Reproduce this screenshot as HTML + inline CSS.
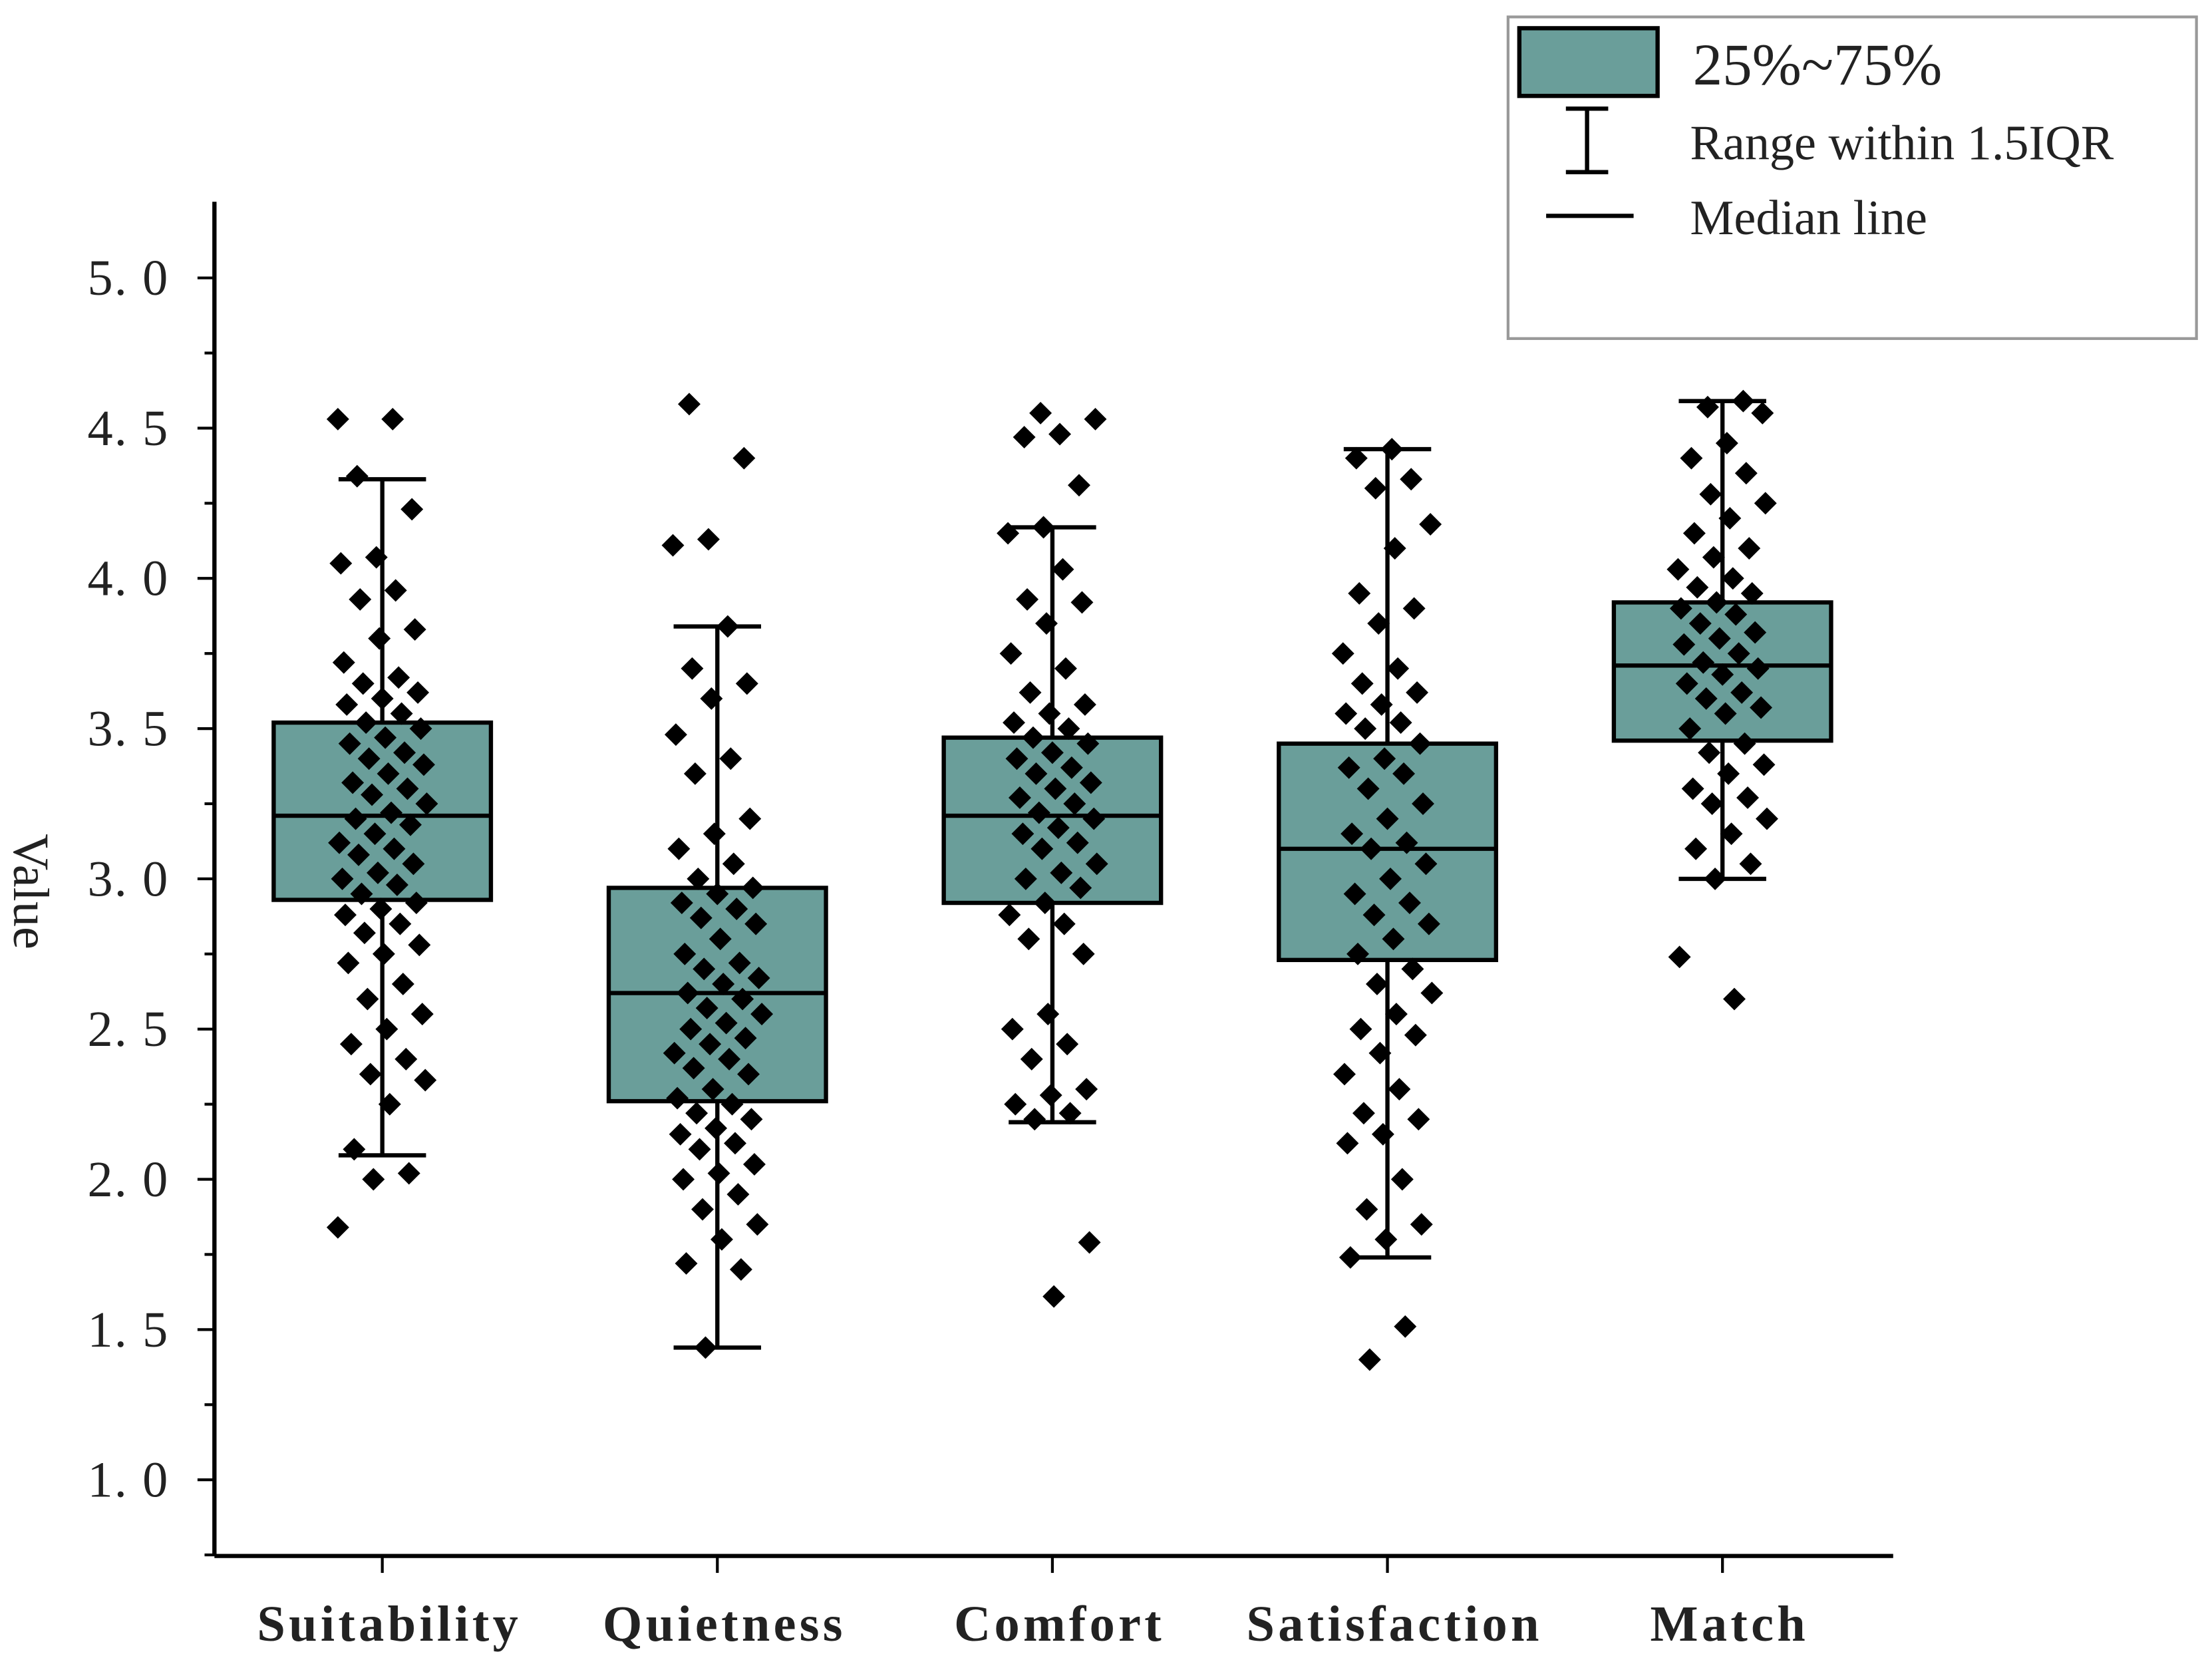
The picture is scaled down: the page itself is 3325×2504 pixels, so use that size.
<!DOCTYPE html>
<html><head><meta charset="utf-8"><style>
html,body{margin:0;padding:0;background:#fff;}
svg{display:block;}
text{font-family:"Liberation Serif","Noto Serif CJK SC",serif;fill:#222;}
</style></head><body>
<svg id="chart" width="3325" height="2504" viewBox="0 0 1568 1181" preserveAspectRatio="none" xmlns="http://www.w3.org/2000/svg">
<g id="axes"></g>
<g id="boxes"></g>
<g id="points"></g>
<g>
  <rect x="1069" y="12" width="488" height="228" fill="#fff" stroke="#999" stroke-width="2"/>
  <rect x="1077" y="20" width="98" height="48" fill="#6a9e9a" stroke="#000" stroke-width="3"/>
  <text x="1200" y="60" font-size="42" fill="#333">25%~75%</text>
  <line x1="1125" y1="77" x2="1125" y2="122" stroke="#000" stroke-width="3"/>
  <line x1="1110" y1="77" x2="1140" y2="77" stroke="#000" stroke-width="3"/>
  <line x1="1110" y1="122" x2="1140" y2="122" stroke="#000" stroke-width="3"/>
  <text x="1198" y="113" font-size="35" fill="#333">Range within 1.5IQR</text>
  <line x1="1096" y1="153" x2="1158" y2="153" stroke="#000" stroke-width="3"/>
  <text x="1198" y="166" font-size="35" fill="#333">Median line</text>
</g>
</svg>
<script>
const categories=["Suitability","Quietness","Comfort","Satisfaction","Match"];
const q1=[2.93,2.26,2.92,2.73,3.46];
const q3=[3.52,2.97,3.47,3.45,3.92];
const medians=[3.21,2.62,3.21,3.10,3.71];
const whiskerLow=[2.08,1.44,2.19,1.74,3.00];
const whiskerHigh=[4.33,3.84,4.17,4.43,4.59];
const yTicks=[1.0,1.5,2.0,2.5,3.0,3.5,4.0,4.5,5.0];
const yTickLabels=["1. 0","1. 5","2. 0","2. 5","3. 0","3. 5","4. 0","4. 5","5. 0"];
const ptsSuitability=[4.53,4.53,4.34,4.23,4.07,4.05,3.96,3.93,3.83,3.80,3.72,3.67,3.65,3.62,3.60,3.58,3.55,3.52,3.50,3.47,3.45,3.42,3.40,3.38,3.35,3.32,3.30,3.28,3.25,3.22,3.20,3.18,3.15,3.12,3.10,3.08,3.05,3.02,3.00,2.98,2.95,2.92,2.90,2.88,2.85,2.82,2.78,2.75,2.72,2.65,2.60,2.55,2.50,2.45,2.40,2.35,2.33,2.25,2.10,2.02,2.00,1.84];
const ptsQuietness=[4.58,4.40,4.13,4.11,3.84,3.70,3.65,3.60,3.48,3.40,3.35,3.20,3.15,3.10,3.05,3.00,2.97,2.95,2.92,2.90,2.87,2.85,2.80,2.75,2.72,2.70,2.67,2.65,2.62,2.60,2.57,2.55,2.52,2.50,2.47,2.45,2.42,2.40,2.37,2.35,2.30,2.27,2.25,2.22,2.20,2.17,2.15,2.12,2.10,2.05,2.02,2.00,1.95,1.90,1.85,1.80,1.72,1.70,1.44];
const ptsComfort=[4.55,4.53,4.48,4.47,4.31,4.17,4.15,4.03,3.93,3.92,3.85,3.75,3.70,3.62,3.58,3.55,3.52,3.50,3.47,3.45,3.42,3.40,3.37,3.35,3.32,3.30,3.27,3.25,3.22,3.20,3.17,3.15,3.12,3.10,3.05,3.02,3.00,2.97,2.92,2.88,2.85,2.80,2.75,2.55,2.50,2.45,2.40,2.30,2.28,2.25,2.22,2.20,1.79,1.61];
const ptsSatisfaction=[4.43,4.40,4.33,4.30,4.18,4.10,3.95,3.90,3.85,3.75,3.70,3.65,3.62,3.58,3.55,3.52,3.50,3.45,3.40,3.37,3.35,3.30,3.25,3.20,3.15,3.12,3.10,3.05,3.00,2.95,2.92,2.88,2.85,2.80,2.75,2.70,2.65,2.62,2.55,2.50,2.48,2.42,2.35,2.30,2.22,2.20,2.15,2.12,2.00,1.90,1.85,1.80,1.74,1.51,1.40];
const ptsMatch=[4.59,4.57,4.55,4.45,4.40,4.35,4.28,4.25,4.20,4.15,4.10,4.07,4.03,4.00,3.97,3.95,3.92,3.90,3.88,3.85,3.82,3.80,3.78,3.75,3.72,3.70,3.68,3.65,3.62,3.60,3.57,3.55,3.50,3.45,3.42,3.38,3.35,3.30,3.27,3.25,3.20,3.15,3.10,3.05,3.00,2.74,2.60];
const points=[ptsSuitability,ptsQuietness,ptsComfort,ptsSatisfaction,ptsMatch];

const NS="http://www.w3.org/2000/svg";
const X0=152,X1=1342,YB=1103,YT=143;
function yScale(v){return 1049-(v-1.0)*213;}
function xScale(i){return 271+i*237.5;}
function mk(tag,attrs,parent){const e=document.createElementNS(NS,tag);for(const k in attrs)e.setAttribute(k,attrs[k]);parent.appendChild(e);return e;}
const axes=document.getElementById('axes'),boxes=document.getElementById('boxes'),pts=document.getElementById('points');
let e;
e=mk('line',{x1:X0,y1:YT,x2:X0,y2:YB,stroke:'#000','stroke-width':3},axes);


e=mk('line',{x1:X0,y1:YB,x2:X1,y2:YB,stroke:'#000','stroke-width':3},axes);


for(let v=0.75;v<=5.2;v+=0.25){
  const y=yScale(v);if(y<YT||y>YB)continue;
  const major=Math.abs(v*2-Math.round(v*2))<1e-6;
  mk('line',{x1:X0-(major?12:7),y1:y,x2:X0,y2:y,stroke:'#000','stroke-width':2},axes);
}
yTicks.forEach((v,i)=>{
  const t=mk('text',{x:120,y:yScale(v)+12,'font-size':36,'text-anchor':'end',fill:'#555','letter-spacing':'1'},axes);
  t.textContent=yTickLabels[i];
  
  
});
e=mk('text',{x:0,y:0,'font-size':36,'text-anchor':'middle',fill:'#333',transform:'translate(10,632) rotate(90)'},axes);
e.textContent='Value';


categories.forEach((c,i)=>{
  const x=xScale(i);
  mk('line',{x1:x,y1:YB,x2:x,y2:YB+12,stroke:'#000','stroke-width':2},axes);
  const t=mk('text',{x:x+5,y:1163,'font-size':36,'font-weight':'bold','text-anchor':'middle','letter-spacing':'2.5',fill:'#000'},axes);
  t.textContent=c;
  
  
  const g=mk('g',{},boxes);
  
  
  mk('line',{x1:x,y1:yScale(whiskerHigh[i]),x2:x,y2:yScale(whiskerLow[i]),stroke:'#000','stroke-width':3},g);
  mk('line',{x1:x-31,y1:yScale(whiskerHigh[i]),x2:x+31,y2:yScale(whiskerHigh[i]),stroke:'#000','stroke-width':3},g);
  mk('line',{x1:x-31,y1:yScale(whiskerLow[i]),x2:x+31,y2:yScale(whiskerLow[i]),stroke:'#000','stroke-width':3},g);
  mk('rect',{x:x-77,y:yScale(q3[i]),width:154,height:yScale(q1[i])-yScale(q3[i]),fill:'#6a9e9a',stroke:'#000','stroke-width':3},g);
  mk('line',{x1:x-77,y1:yScale(medians[i]),x2:x+77,y2:yScale(medians[i]),stroke:'#000','stroke-width':3},g);
  points[i].forEach((v,j)=>{
    const off=(((j*37+i*11)%61)-30)*1.05;
    const px=x+off,py=yScale(v);
    const p=mk('path',{d:`M${px} ${py-8}L${px+8} ${py}L${px} ${py+8}L${px-8} ${py}Z`,fill:'#000'},pts);
    
    
  });
});
</script>
</body></html>
